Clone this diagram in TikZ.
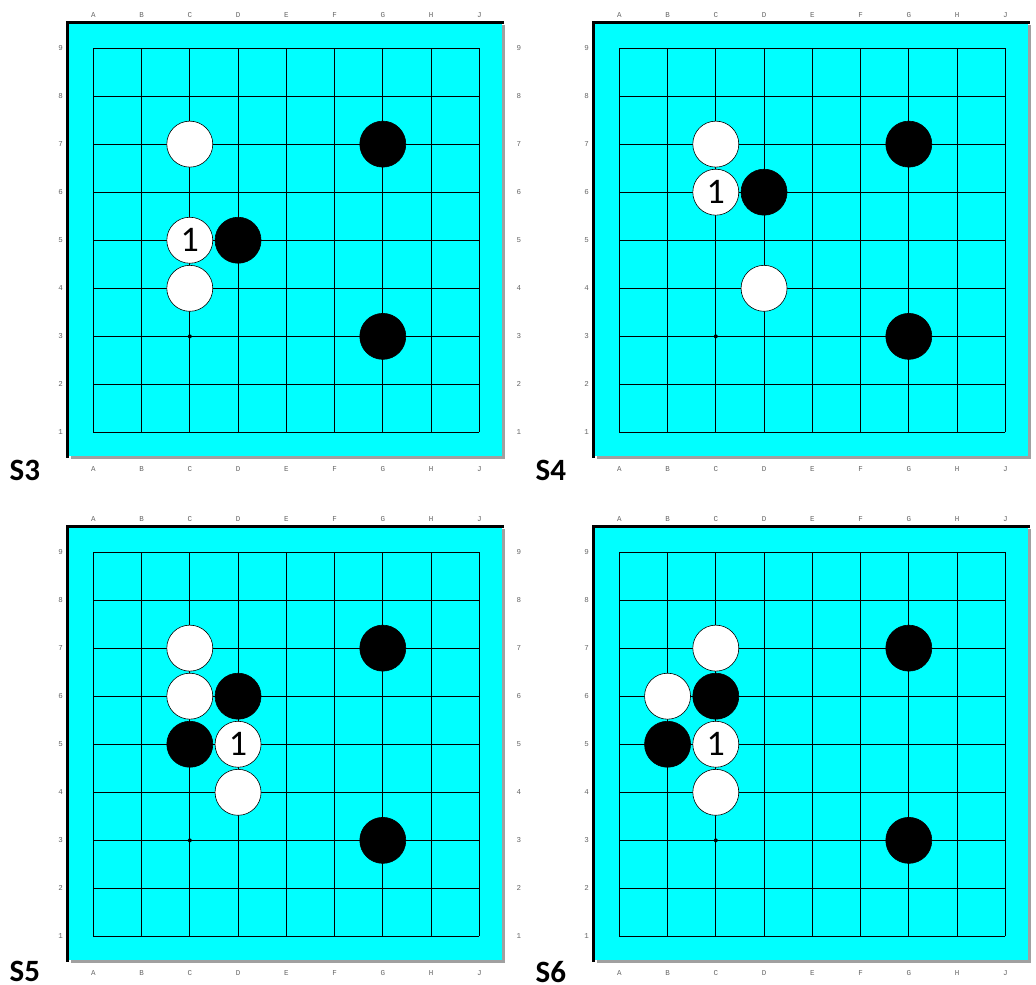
\documentclass[tikz,border=0pt]{standalone}
\usepackage{fontspec}
\setmainfont{Carlito}
\newfontfamily\coordfont{Liberation Mono}
\usepackage{tikz}
\usetikzlibrary{calc}
\definecolor{boardcyan}{RGB}{0,255,255}
\definecolor{shadowgray}{RGB}{160,160,160}
\tikzset{
  go frame/.style={
    line width=2.7pt,
    draw=black,
  },
  go line/.style={line width=0.9pt, draw=black},
  go stone/.style={
    circle,
    minimum size=46pt,
    inner sep=0pt,
    draw=black,
    line width=0.6pt,
    font=\fontsize{36}{36}\selectfont,
  },
  go black/.style={go stone, fill=black},
  go white/.style={go stone, fill=white},
  go coord/.style={
    font=\coordfont\fontsize{7.5}{7.5}\selectfont,
    text=black!60,
    inner sep=0pt,
  },
  go title/.style={font=\bfseries\fontsize{31}{31}\selectfont, inner sep=0pt},
}

% frame, grid, coordinates and star point of one board
% #1 = tag, #2 = 1 if the right-hand row numbers are shown
\newcommand\goboard[2]{%
  \fill[shadowgray] ([shift={(3pt,-3pt)}]0.467,0.505) rectangle ([shift={(3pt,-3pt)}]9.48,9.535);
  \fill[boardcyan] (0.467,0.505) rectangle (9.48,9.535);
  \draw[go frame] (0.467,0.47) -- (0.467,9.535) -- ([xshift=2pt]9.48,9.535);
  \foreach \i in {1,...,9} {
    \draw[go line] (\i,1) -- (\i,9);
    \draw[go line] (1,\i) -- (9,\i);
  }
  \foreach \c [count=\i] in {A,B,C,D,E,F,G,H,J} {
    \node[go coord] (#1-top-\c) at (\i,9.69) {\c};
    \node[go coord] (#1-bot-\c) at (\i,0.24) {\c};
  }
  \foreach \r in {1,...,9} {
    \node[go coord] (#1-left-\r) at (0.324,\r) {\r};
    \ifnum#2=1
      \node[go coord] (#1-right-\r) at (9.82,\r) {\r};
    \fi
  }
  \fill (3,3) circle (2pt);
}

\begin{document}
\begin{tikzpicture}
  \useasboundingbox (0pt,0pt) rectangle (1036pt,985pt);

  % S3
  \begin{scope}[shift={(45.05pt,504.44pt)}, x=48.25pt, y=48.06pt]
    \goboard{s3}{1}
    \foreach \col/\row in {3/7,3/4}
      \node[go white] (s3-w\col\row) at (\col,\row) {};
    \node[go white] (s3-w35) at (3,5) {1};
    \foreach \col/\row in {7/7,4/5,7/3}
      \node[go black] (s3-b\col\row) at (\col,\row) {};
    \node[go title] (s3-title) at (-0.42,0.21) {S3};
  \end{scope}

  % S4
  \begin{scope}[shift={(571.05pt,504.44pt)}, x=48.25pt, y=48.06pt]
    \goboard{s4}{0}
    \foreach \col/\row in {3/7,4/4}
      \node[go white] (s4-w\col\row) at (\col,\row) {};
    \node[go white] (s4-w36) at (3,6) {1};
    \foreach \col/\row in {7/7,4/6,7/3}
      \node[go black] (s4-b\col\row) at (\col,\row) {};
    \node[go title] (s4-title) at (-0.42,0.21) {S4};
  \end{scope}

  % S5
  \begin{scope}[shift={(45.05pt,0.44pt)}, x=48.25pt, y=48.06pt]
    \goboard{s5}{1}
    \foreach \col/\row in {3/7,3/6,4/4}
      \node[go white] (s5-w\col\row) at (\col,\row) {};
    \node[go white] (s5-w45) at (4,5) {1};
    \foreach \col/\row in {7/7,4/6,3/5,7/3}
      \node[go black] (s5-b\col\row) at (\col,\row) {};
    \node[go title] (s5-title) at (-0.42,0.27) {S5};
  \end{scope}

  % S6
  \begin{scope}[shift={(571.05pt,0.44pt)}, x=48.25pt, y=48.06pt]
    \goboard{s6}{0}
    \foreach \col/\row in {3/7,2/6,3/4}
      \node[go white] (s6-w\col\row) at (\col,\row) {};
    \node[go white] (s6-w35) at (3,5) {1};
    \foreach \col/\row in {7/7,3/6,2/5,7/3}
      \node[go black] (s6-b\col\row) at (\col,\row) {};
    \node[go title] (s6-title) at (-0.42,0.27) {S6};
  \end{scope}
\end{tikzpicture}
\end{document}
